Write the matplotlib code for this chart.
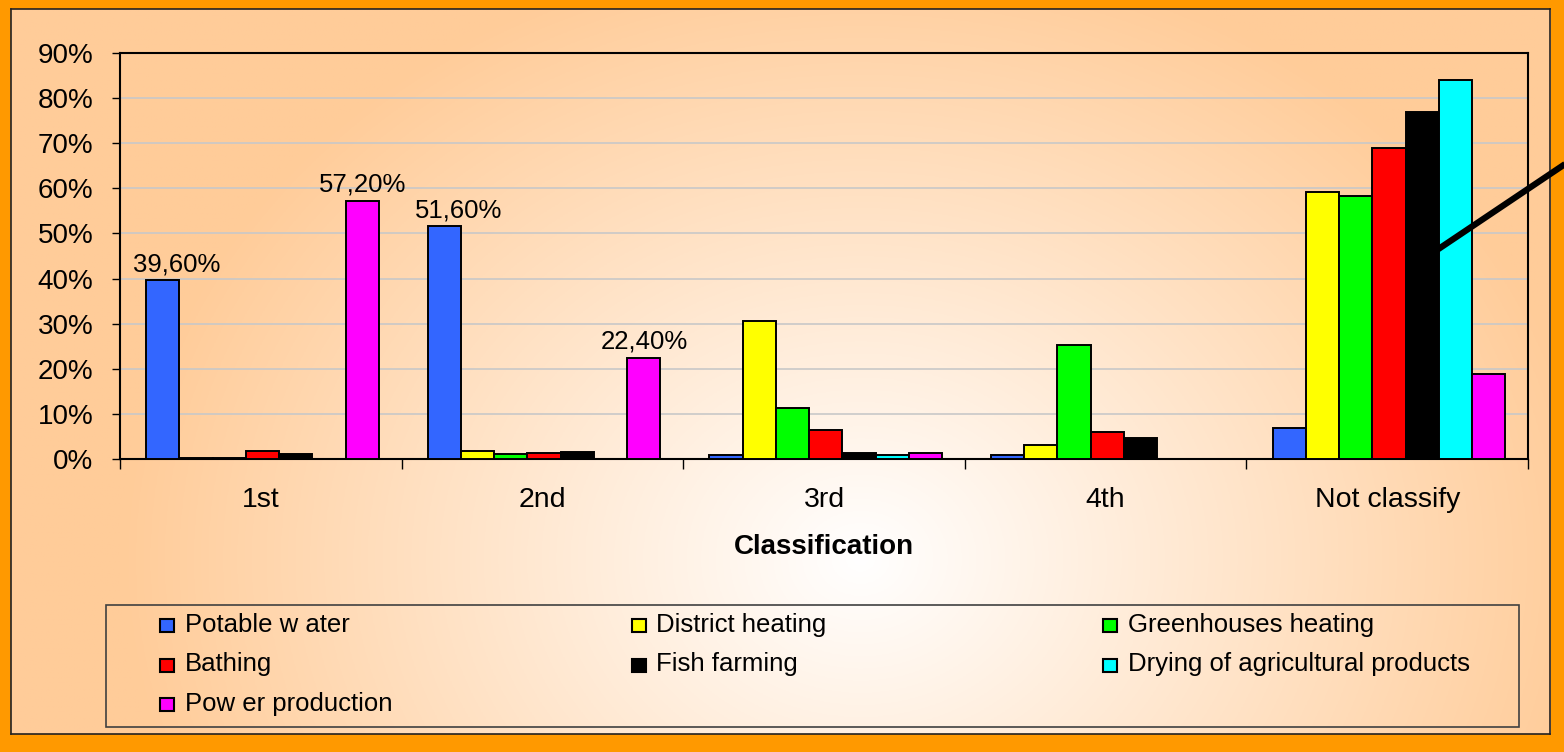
import matplotlib.pyplot as plt
import numpy as np
from matplotlib.patches import Rectangle
from matplotlib.lines import Line2D

categories = ['1st', '2nd', '3rd', '4th', 'Not classify']
series_names = ['Potable w ater', 'District heating', 'Greenhouses heating',
                'Bathing', 'Fish farming', 'Drying of agricultural products',
                'Pow er production']

# percentages per classification
potable_water = [39.6, 51.6, 0.9, 0.9, 6.8]
district_heating = [0.3, 1.8, 30.7, 3.2, 59.2]
greenhouses_heating = [0.3, 1.2, 11.4, 25.3, 58.3]
bathing = [1.8, 1.4, 6.4, 6.0, 68.9]
fish_farming = [1.0, 1.5, 1.4, 4.7, 76.9]
drying = [0.0, 0.0, 0.8, 0.0, 84.0]
power_production = [57.2, 22.4, 1.4, 0.0, 18.8]

# (series index, category index) of the bars that carry a value label
labelled = [(0, 0), (6, 0), (0, 1), (6, 1)]

y_ticks = [0, 10, 20, 30, 40, 50, 60, 70, 80, 90]

series_values = [potable_water, district_heating, greenhouses_heating, bathing,
                 fish_farming, drying, power_production]
colors = ['#3366FF', '#FFFF00', '#00FF00', '#FF0000', '#000000', '#00FFFF', '#FF00FF']

W, H = 1564, 752
plt.rcParams['font.family'] = ['Liberation Sans', 'DejaVu Sans']


def fx(px):
    return px / W


def fy(py):
    return 1 - py / H


fig = plt.figure(figsize=(W / 100, H / 100), dpi=100)
fig.patch.set_facecolor('#FF9900')

# panel with centre gradient
px0, py0, px1, py1 = 10.5, 9, 1550, 734
bg = fig.add_axes([fx(px0), fy(py1), fx(px1) - fx(px0), fy(py0) - fy(py1)], zorder=-2)
gy, gx = np.mgrid[py0:py1:300j, px0:px1:600j]
t = np.sqrt(((gx - 860) / 740) ** 2 + ((gy - 560) / 620) ** 2)
t = np.clip(t, 0, 1)
peach = np.array([255, 204, 153]) / 255
white = np.array([255, 255, 255]) / 255
img = white[None, None, :] * (1 - t[..., None]) + peach[None, None, :] * t[..., None]
bg.imshow(img, extent=[px0, px1, py1, py0], aspect='auto')
bg.set_xlim(px0, px1)
bg.set_ylim(py1, py0)
bg.set_xticks([])
bg.set_yticks([])
for s in bg.spines.values():
    s.set_color('#222222')
    s.set_linewidth(1.2)

# main plot
ax = fig.add_axes([fx(120), fy(459), fx(1528) - fx(120), fy(53) - fy(459)])
ax.set_facecolor('none')

x = np.arange(len(categories))
n = len(series_values)
w = 0.118
for j, (vals, c) in enumerate(zip(series_values, colors)):
    ax.bar(x + (j - (n - 1) / 2) * w + 0.006, vals, width=w, color=c,
           edgecolor='black', linewidth=1.4, zorder=3)

label_dx = {0: 16, 6: 2}
for j, i in labelled:
    v = series_values[j][i]
    txt = f'{v:.2f}%'.replace('.', ',')
    ax.annotate(txt, (x[i] + (j - (n - 1) / 2) * w, v),
                xytext=(label_dx[j] * 0.72, 3), textcoords='offset points',
                ha='center', va='bottom', fontsize=18.5, zorder=4)

ax.set_xlim(-0.5, len(categories) - 0.5)
ax.set_ylim(0, 90)
ax.set_yticks(y_ticks)
ax.set_yticklabels([f'{v}%' for v in y_ticks])
ax.grid(axis='y', color='#C8C8C8', linewidth=1.2, zorder=0)
ax.set_axisbelow(True)

ax.set_xticks(np.arange(-0.5, len(categories), 1))
ax.set_xticklabels([])
ax.set_xticks(x, minor=True)
ax.set_xticklabels(categories, minor=True)
ax.tick_params(axis='x', which='major', direction='out', length=7, width=1)
ax.tick_params(axis='x', which='minor', length=0, pad=20, labelsize=20.5)
ax.tick_params(axis='y', direction='out', length=6, width=1, pad=13, labelsize=20)

for s in ax.spines.values():
    s.set_color('black')
    s.set_linewidth(1.5)

ax.set_xlabel('Classification', fontsize=20, fontweight='bold', labelpad=15)

# legend box, filled row by row
fig.patches.append(Rectangle((fx(106), fy(727)), fx(1519) - fx(106), fy(605) - fy(727),
                             transform=fig.transFigure, fill=False,
                             edgecolor='#404040', linewidth=1.2))
for k, name in enumerate(series_names):
    row, col = divmod(k, 3)
    mx = 160 + col * 471.5
    my = 625 + row * 39.5
    fig.patches.append(Rectangle((fx(mx), fy(my + 7)), fx(14), 13 / H,
                                 transform=fig.transFigure, facecolor=colors[k],
                                 edgecolor='black', linewidth=1.5))
    fig.text(fx(mx + 25), fy(my), name, fontsize=18.5, va='center', ha='left')

# stray pointer line at the right
fig.add_artist(Line2D([fx(1437), fx(1580)], [fy(250), fy(154)],
                      transform=fig.transFigure, color='black', linewidth=4.5,
                      solid_capstyle='butt', zorder=10))

fig.savefig('out.png', dpi=100, facecolor=fig.get_facecolor())
